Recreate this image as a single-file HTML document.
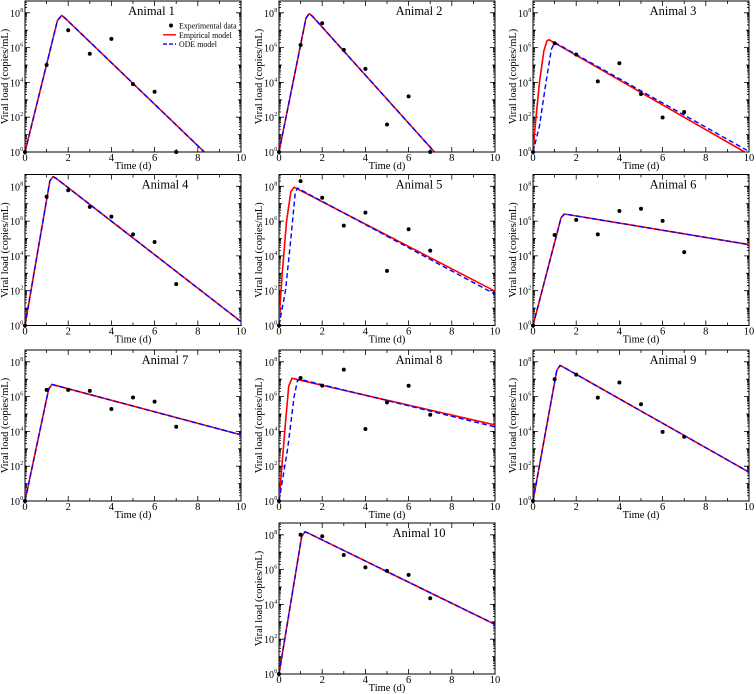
<!DOCTYPE html>
<html><head><meta charset="utf-8">
<style>
html,body{margin:0;padding:0;background:#fff;}
svg{display:block;}
text{font-family:"Liberation Serif",serif;fill:#000;}
</style></head>
<body>
<svg id="fig" width="756" height="694" viewBox="0 0 756 694" xmlns="http://www.w3.org/2000/svg"></svg>
<script>
// Animal labels
const animals = ["Animal 1","Animal 2","Animal 3","Animal 4","Animal 5","Animal 6","Animal 7","Animal 8","Animal 9","Animal 10"];
// Experimental data: log10 viral load at days 0..7
const dataDays = [0,1,2,3,4,5,6,7];
const expLog = [
  [0,5.0,7.0,5.65,6.5,3.9,3.46,0],
  [0,6.15,7.4,5.87,4.78,1.58,3.2,0],
  [0,6.25,5.6,4.06,5.1,3.33,1.98,2.3],
  [0,7.4,7.77,6.82,6.26,5.24,4.8,2.38],
  [0,8.3,7.34,5.74,6.49,3.14,5.53,4.3],
  [0,5.2,6.07,5.24,6.58,6.71,6.01,4.22],
  [0,6.39,6.39,6.33,5.29,5.95,5.71,4.27],
  [0,7.07,6.63,7.55,4.14,5.67,6.62,4.96],
  [0,7.0,7.26,5.94,6.81,5.56,3.97,3.69],
  [0,8.0,7.92,6.84,6.13,5.93,5.7,4.35]
];
// Empirical model knots: times and log10 values
const empT = [
  [0,1.5,1.7,1.85,8.3],
  [0,1.25,1.4,1.55,7.2],
  [0,0.1,0.3,0.5,0.65,0.75,9.8],
  [0,1.15,1.3,1.45,10],
  [0,0.15,0.35,0.55,0.7,10],
  [0,1.3,1.45,1.6,10],
  [0,1.1,1.25,1.4,10],
  [0,0.1,0.3,0.45,0.6,10],
  [0,1.1,1.25,1.4,10],
  [0,1.05,1.2,1.35,10]
];
const empV = [
  [0,7.55,7.85,7.7,0],
  [0,7.7,7.95,7.8,0],
  [0,1.5,4.0,5.8,6.4,6.45,0],
  [0,8.3,8.56,8.45,0.22],
  [0.3,3.0,6.0,7.7,7.95,1.97],
  [0,6.2,6.4,6.38,4.65],
  [0,6.45,6.7,6.65,3.8],
  [0,1.5,4.5,6.6,7.05,4.37],
  [0,7.5,7.79,7.7,1.66],
  [0,7.9,8.17,8.1,2.85]
];
// ODE model knots
const odeT = [
  [0,1.5,1.7,1.85,8.3],
  [0,1.25,1.4,1.55,7.2],
  [0,0.3,0.6,0.85,1.0,9.9],
  [0,1.15,1.3,1.45,10],
  [0,0.3,0.55,0.75,0.85,10],
  [0,1.3,1.45,1.6,10],
  [0,1.1,1.25,1.4,10],
  [0,0.4,0.7,0.85,0.95,10],
  [0,1.1,1.25,1.4,10],
  [0,1.05,1.2,1.35,10]
];
const odeV = [
  [0,7.55,7.85,7.7,0],
  [0,7.7,7.95,7.8,0],
  [0,1.5,4.0,5.9,6.3,0.1],
  [0,8.3,8.56,8.45,0.22],
  [0,2.0,5.0,7.6,7.9,1.8],
  [0,6.2,6.4,6.38,4.65],
  [0,6.45,6.7,6.65,3.8],
  [0,3.0,6.0,6.9,7.0,4.26],
  [0,7.5,7.79,7.7,1.66],
  [0,7.9,8.17,8.1,2.85]
];
const xTickLabels = ["0","2","4","6","8","10"];
const yTickExps = ["0","2","4","6","8"];

const NS = "http://www.w3.org/2000/svg";
const svg = document.getElementById("fig");
function mk(tag, attrs, parent){
  const e = document.createElementNS(NS, tag);
  for (const k in attrs) e.setAttribute(k, attrs[k]);
  (parent||svg).appendChild(e);
  return e;
}
const colX = [25,279,533];
const rowY0 = [152,325.5,501,674];
const W = 216, DEC = 17.4, H = 151;
const pos = [[0,0],[1,0],[2,0],[0,1],[1,1],[2,1],[0,2],[1,2],[2,2],[1,3]];

pos.forEach((p, i) => {
  const x0 = colX[p[0]], yb = rowY0[p[1]], yt = yb - H;
  const sx = t => x0 + t / 10 * W;
  const sy = v => yb - v * DEC;
  const g = mk("g", {});
  
  
  const fr = mk("rect", {x:x0, y:yt, width:W, height:H, fill:"none", stroke:"#000", "stroke-width":1}, g);
  
  
  let tk = "";
  for (let t = 0; t <= 10; t++) {
    const L = t % 2 === 0 ? 5 : 3;
    const X = sx(t);
    tk += `M${X},${yb}v${-L}M${X},${yt}v${L}`;
  }
  for (let d = 0; d <= 8; d++) {
    const L = d % 2 === 0 ? 5 : 3;
    const Y = sy(d);
    tk += `M${x0},${Y}h${L}M${x0+W},${Y}h${-L}`;
  }
  for (let d = 0; d <= 8; d++) {
    for (let m = 2; m <= 9; m++) {
      const v = d + Math.log10(m);
      if (sy(v) < yt) continue;
      const Y = sy(v);
      tk += `M${x0},${Y}h2M${x0+W},${Y}h-2`;
    }
  }
  const ticks = mk("path", {d:tk, stroke:"#000", "stroke-width":0.8, fill:"none"}, g);
  
  
  xTickLabels.forEach((lb, k) => {
    const tx = mk("text", {x:sx(k*2), y:yb+9, "font-size":10.5, "text-anchor":"middle"}, g);
    tx.textContent = lb;
    
    
  });
  yTickExps.forEach((e, k) => {
    const tx = mk("text", {x:x0-5, y:sy(k*2)+4, "font-size":10, "text-anchor":"end"}, g);
    tx.textContent = "10";
    
    
    const sp = mk("text", {x:x0-4.8, y:sy(k*2)-1, "font-size":6}, g);
    sp.textContent = e;
    
    
  });
  const xt = mk("text", {x:x0+W/2, y:yb+17, "font-size":10.5, "text-anchor":"middle"}, g);
  xt.textContent = "Time (d)";
  
  
  const yy = yt + H/2;
  const ytx = x0 - 17;
  const ytl = mk("text", {x:ytx, y:yy, "font-size":10.5, "text-anchor":"middle", transform:`rotate(-90 ${ytx} ${yy})`}, g);
  ytl.textContent = "Viral load (copies/mL)";
  
  
  const ti = mk("text", {x:x0 + (i === 0 ? 126.5 : 140), y:yt+14, "font-size":12.5, "text-anchor":"middle"}, g);
  ti.textContent = animals[i];
  
  
  const cp = mk("clipPath", {id:"cp"+i}, g);
  mk("rect", {x:x0, y:yt, width:W, height:H}, cp);
  const cg = mk("g", {"clip-path":`url(#cp${i})`}, g);
  const pathOf = (T, V) => T.map((t, k) => (k ? "L" : "M") + sx(t).toFixed(2) + "," + sy(V[k]).toFixed(2)).join("");
  const emp = mk("path", {d:pathOf(empT[i], empV[i]), stroke:"#ff0000", "stroke-width":1.6, fill:"none", "stroke-linejoin":"round"}, cg);
  
  
  const ode = mk("path", {d:pathOf(odeT[i], odeV[i]), stroke:"#0000ff", "stroke-width":1.4, fill:"none", "stroke-dasharray":"5,3", "stroke-linejoin":"round"}, cg);
  
  
  dataDays.forEach((t, k) => {
    const c = mk("circle", {cx:sx(t), cy:sy(expLog[i][k]), r:2, fill:"#000"}, g);
    
    
  });
  if (i === 0) {
    const lg = mk("g", {}, g);
    
    
    const items = [["Experimental data","dot"],["Empirical model","red"],["ODE model","blue"]];
    items.forEach((it, k) => {
      const Y = 25.5 + k * 9.3;
      if (it[1] === "dot") mk("circle", {cx:171, cy:Y, r:2, fill:"#000"}, lg);
      else mk("line", {x1:163, x2:176, y1:Y, y2:Y, stroke: it[1]==="red" ? "#ff0000" : "#0000ff", "stroke-width":1.4, "stroke-dasharray": it[1]==="blue" ? "4,2" : "none"}, lg);
      const tx = mk("text", {x:179, y:Y+3, "font-size":7.9}, lg);
      tx.textContent = it[0];
      
      
    });
  }
});
</script>
</body></html>
